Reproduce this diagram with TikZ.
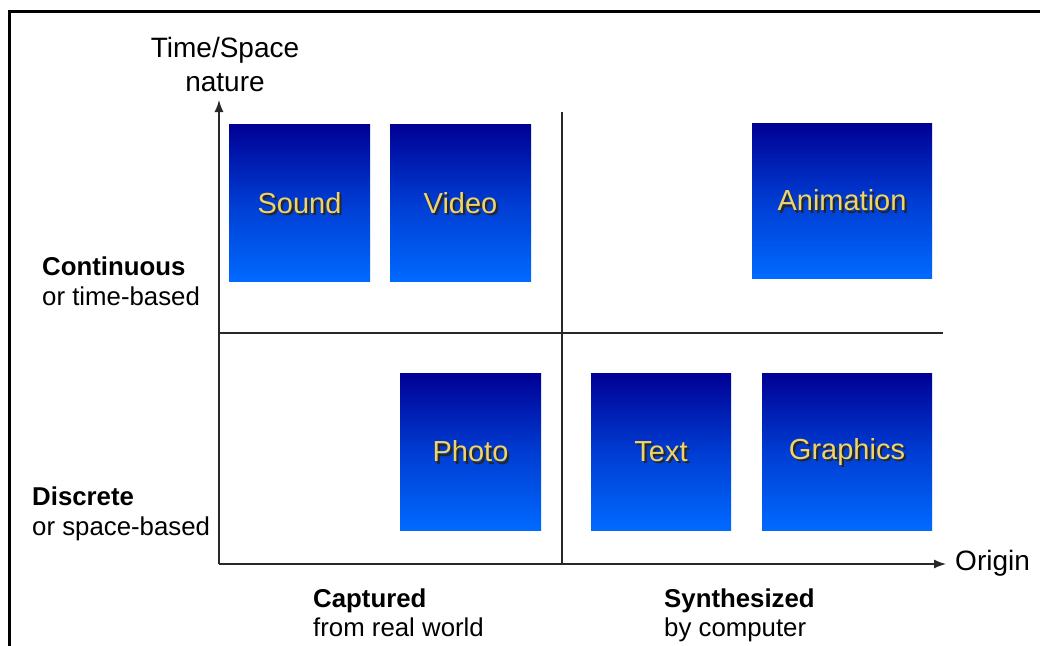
\documentclass[tikz,border=0pt]{standalone}
\usepackage{fontspec}
\setmainfont{Liberation Sans}
\usetikzlibrary{arrows.meta}
\definecolor{boxtop}{RGB}{0,0,148}
\definecolor{boxmid}{RGB}{0,60,210}
\definecolor{boxbot}{RGB}{0,106,255}
\definecolor{gold}{RGB}{240,212,100}
\definecolor{axis}{RGB}{40,40,40}
\tikzset{
  mbox/.style={rectangle, inner sep=0pt, top color=boxtop, bottom color=boxbot, middle color=boxmid, draw=none},
  boxlbl/.style={inner sep=0pt, text=gold, font=\fontsize{29}{32}\selectfont},
  boxshadow/.style={inner sep=0pt, text=black!85, font=\fontsize{29}{32}\selectfont},
  axlbl/.style={inner sep=0pt, font=\fontsize{28}{32}\selectfont},
  cat/.style={inner sep=0pt, anchor=base west, font=\fontsize{25.8}{29}\selectfont},
  catb/.style={cat, font=\fontsize{25.8}{29}\selectfont\bfseries},
  axisline/.style={draw=axis, line width=1.3pt},
  axisarrow/.style={axisline, -{Latex[length=12pt,width=9pt]}},
}
\newcommand{\shlabel}[2]{%
  \node[boxshadow] at ([shift={(2.2,2.2)}]#1.center) {#2};
  \node[boxlbl] at (#1.center) {#2};
}
\begin{document}
\begin{tikzpicture}[x=1pt,y=-1pt]
\useasboundingbox (0,0) rectangle (1040,645);
\fill[white] (0,0) rectangle (1040,645);
% frame
\draw[line width=3pt] (9.5,646) -- (9.5,11.5) -- (1041,11.5);
% axes
\coordinate (O) at (219,564);
\coordinate (ytip) at (219,100);
\coordinate (xtip) at (946,564);
\coordinate (midtop) at (562,112);
\coordinate (midbot) at (562,564);
\coordinate (hleft) at (219,333);
\coordinate (hright) at (943,333);
\draw[axisline] (midtop) -- (midbot);
\draw[axisline] (hleft) -- (hright);
\draw[axisarrow] (O) -- (ytip);
\draw[axisarrow] (O) -- (xtip);
% boxes
\node[mbox, minimum width=141pt, minimum height=157pt] (sound) at (299.5,203) {};
\node[mbox, minimum width=141pt, minimum height=157pt] (video) at (460.5,203) {};
\node[mbox, minimum width=180pt, minimum height=155pt] (anim) at (842,200.5) {};
\node[mbox, minimum width=141pt, minimum height=157pt] (photo) at (470.5,451.5) {};
\node[mbox, minimum width=140pt, minimum height=157pt] (text) at (661,451.5) {};
\node[mbox, minimum width=170pt, minimum height=157pt] (graph) at (847,451.5) {};
\shlabel{sound}{Sound}
\shlabel{video}{Video}
\shlabel{anim}{Animation}
\shlabel{photo}{Photo}
\shlabel{text}{Text}
\shlabel{graph}{Graphics}
% axis labels
\node[axlbl, anchor=base] (ts1) at (225,57) {Time/Space};
\node[axlbl, anchor=base] (ts2) at (225,91) {nature};
\node[axlbl, anchor=base west] (origin) at (955,570) {Origin};
% category labels
\node[catb] (cont1) at (42,275) {Continuous};
\node[cat] (cont2) at (42,305) {or time-based};
\node[catb] (disc1) at (32,505) {Discrete};
\node[cat] (disc2) at (32,535) {or space-based};
\node[catb] (capt1) at (313,607) {Captured};
\node[cat] (capt2) at (313,636) {from real world};
\node[catb] (syn1) at (664,607) {Synthesized};
\node[cat] (syn2) at (664,636) {by computer};
\end{tikzpicture}
\end{document}
